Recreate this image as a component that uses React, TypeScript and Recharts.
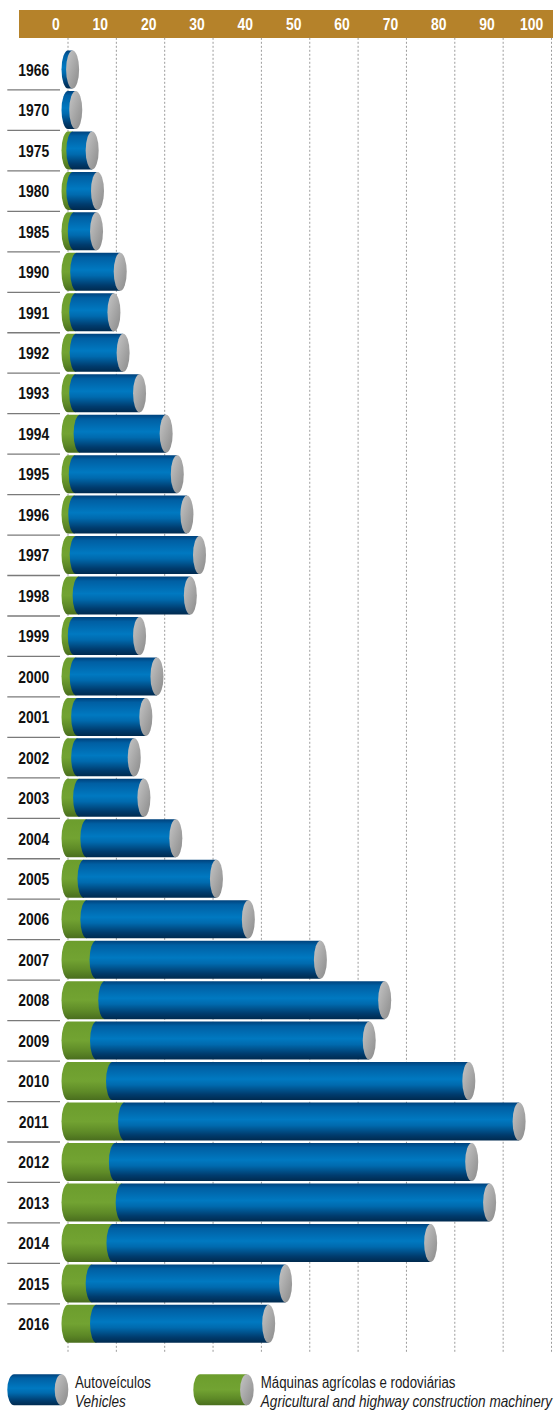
import React from 'react';
import { BarChart, Bar, XAxis, YAxis, CartesianGrid } from 'recharts';

const years = ['1966', '1970', '1975', '1980', '1985', '1990', '1991', '1992', '1993', '1994', '1995', '1996', '1997', '1998', '1999', '2000', '2001', '2002', '2003', '2004', '2005', '2006', '2007', '2008', '2009', '2010', '2011', '2012', '2013', '2014', '2015', '2016'];
const machinery = [0, 0, 1.0, 1.0, 1.3, 1.8, 1.6, 1.7, 1.6, 2.5, 1.5, 1.4, 1.7, 2.3, 1.3, 1.7, 2.0, 2.0, 2.4, 3.9, 3.3, 3.9, 5.8, 7.6, 5.9, 9.2, 11.7, 9.8, 11.2, 9.3, 5.0, 5.9];
const vehicles = [0.95, 1.6, 4.0, 5.1, 4.6, 9.0, 7.9, 9.7, 13.2, 17.8, 21.1, 23.2, 25.5, 23.0, 13.5, 16.7, 14.1, 11.7, 13.3, 18.4, 27.4, 33.4, 46.4, 57.9, 56.4, 73.7, 81.6, 73.7, 76.0, 65.7, 40.0, 35.6];
const xTicks = [0, 10, 20, 30, 40, 50, 60, 70, 80, 90, 100];

const legendVehicles = 'Autoveículos';
const legendVehiclesEn = 'Vehicles';
const legendMachinery = 'Máquinas agrícolas e rodoviárias';
const legendMachineryEn = 'Agricultural and highway construction machinery';

const data = years.map((y, i) => ({ year: y, machinery: machinery[i], vehicles: vehicles[i] }));

const RX = 6.5;
const BAND = (1344.3 - 49.5) / 32;
const FONT = "'Liberation Sans', Arial, Helvetica, sans-serif";

function bodyPath(x: number, y: number, w: number, h: number, rx: number) {
  const ry = h / 2;
  return `M${x},${y} L${x + w},${y} L${x + w},${y + h} L${x},${y + h} A${rx},${ry} 0 0 1 ${x},${y} Z`;
}

const NText = (props: any) => {
  const { x, y, sx, anchor, children, ...rest } = props;
  return (
    <text transform={`translate(${x},${y}) scale(${sx},1)`} x={0} y={0} textAnchor={anchor} fontFamily={FONT} {...rest}>
      {children}
    </text>
  );
};

const GreenShape = (props: any) => {
  const { x, y, width, height } = props;
  if (!width || width <= 0) return <g />;
  return <path d={bodyPath(x, y, width, height, RX)} fill="url(#gGreen)" />;
};

const BlueShape = (props: any) => {
  const { x, y, width, height } = props;
  if (width == null || width <= 0) return <g />;
  return (
    <g>
      <path d={bodyPath(x, y, width, height, RX)} fill="url(#gBlue)" />
      <ellipse cx={x + width} cy={y + height / 2} rx={RX} ry={height / 2} fill="url(#gCap)" />
    </g>
  );
};

const XTick = (props: any) => {
  const { x, payload } = props;
  return (
    <NText x={x - 8.3} y={30} sx={0.82} anchor="end" fill="#ffffff" fontWeight="bold" fontSize={17}>
      {payload.value}
    </NText>
  );
};

const YTick = (props: any) => {
  const { y, payload } = props;
  const first = payload.value === years[0];
  return (
    <g>
      {!first && <line x1={7.3} x2={60} y1={y - BAND / 2} y2={y - BAND / 2} stroke="#7a7a7a" strokeWidth={1.3} />}
      <NText x={33.7} y={y + 6} sx={0.85} anchor="middle" fill="#111111" fontWeight="bold" fontSize={16.3}>
        {payload.value}
      </NText>
    </g>
  );
};

const Gradients = ({ p }: { p: string }) => (
  <defs>
    <linearGradient id={p + 'Blue'} x1="0" y1="0" x2="0" y2="1">
      <stop offset="0" stopColor="#00427c" />
      <stop offset="0.12" stopColor="#005fa3" />
      <stop offset="0.45" stopColor="#0079c1" />
      <stop offset="0.6" stopColor="#006aae" />
      <stop offset="0.85" stopColor="#003c6e" />
      <stop offset="1" stopColor="#002a4f" />
    </linearGradient>
    <linearGradient id={p + 'Green'} x1="0" y1="0" x2="0" y2="1">
      <stop offset="0" stopColor="#6c9d2d" />
      <stop offset="0.5" stopColor="#72a332" />
      <stop offset="0.78" stopColor="#5e8a27" />
      <stop offset="1" stopColor="#4a6e1e" />
    </linearGradient>
    <linearGradient id={p + 'Cap'} x1="0" y1="0" x2="1" y2="1">
      <stop offset="0" stopColor="#c6c6c6" />
      <stop offset="1" stopColor="#8a8a8a" />
    </linearGradient>
  </defs>
);

const LegendIcon = ({ x0, x1, color }: { x0: number; x1: number; color: string }) => {
  const y = 14.3;
  const h = 31;
  const rx = 6.8;
  const bx = x0 + rx;
  const cx = x1 - rx;
  return (
    <g>
      <path d={bodyPath(bx, y, cx - bx, h, rx)} fill={color} />
      <ellipse cx={cx} cy={y + h / 2} rx={rx} ry={h / 2} fill="url(#lgCap)" />
    </g>
  );
};

export default function App() {
  return (
    <div style={{ position: 'absolute', left: 0, top: 0, width: 555, height: 1410, background: '#ffffff' }}>
      <div style={{ position: 'absolute', left: 19, top: 9.9, width: 534, height: 27.9, background: '#b5822a' }} />
      <div style={{ position: 'absolute', left: 0, top: 0 }}>
        <BarChart
          width={555}
          height={1410}
          data={data}
          layout="vertical"
          margin={{ top: 0, right: 3.5, bottom: 58, left: 0 }}
          barCategoryGap={1}
        >
          <Gradients p="g" />
          <CartesianGrid horizontal={false} vertical stroke="#9c9c9c" strokeDasharray="2 2" />
          <XAxis
            type="number"
            orientation="top"
            domain={[0, 100]}
            ticks={xTicks}
            height={37.8}
            axisLine={false}
            tickLine={false}
            tick={<XTick />}
            interval={0}
          />
          <YAxis
            type="category"
            dataKey="year"
            width={68}
            axisLine={false}
            tickLine={false}
            tick={<YTick />}
            interval={0}
            padding={{ top: 11.7, bottom: 7.7 }}
          />
          <Bar dataKey="machinery" stackId="a" shape={<GreenShape />} isAnimationActive={false} />
          <Bar dataKey="vehicles" stackId="a" shape={<BlueShape />} isAnimationActive={false} />
        </BarChart>
      </div>
      <svg style={{ position: 'absolute', left: 0, top: 1360 }} width={555} height={50}>
        <Gradients p="lg" />
        <LegendIcon x0={7.3} x1={68.3} color="url(#lgBlue)" />
        <NText x={75} y={27.5} sx={0.84} anchor="start" fontSize={15.8} fill="#1a1a1a">{legendVehicles}</NText>
        <NText x={75} y={46.5} sx={0.86} anchor="start" fontSize={15.8} fontStyle="italic" fill="#1a1a1a">{legendVehiclesEn}</NText>
        <LegendIcon x0={193.3} x1={253.7} color="url(#lgGreen)" />
        <NText x={260.8} y={27.5} sx={0.84} anchor="start" fontSize={15.8} fill="#1a1a1a">{legendMachinery}</NText>
        <NText x={260.8} y={46.5} sx={0.86} anchor="start" fontSize={15.8} fontStyle="italic" fill="#1a1a1a">{legendMachineryEn}</NText>
      </svg>
    </div>
  );
}
